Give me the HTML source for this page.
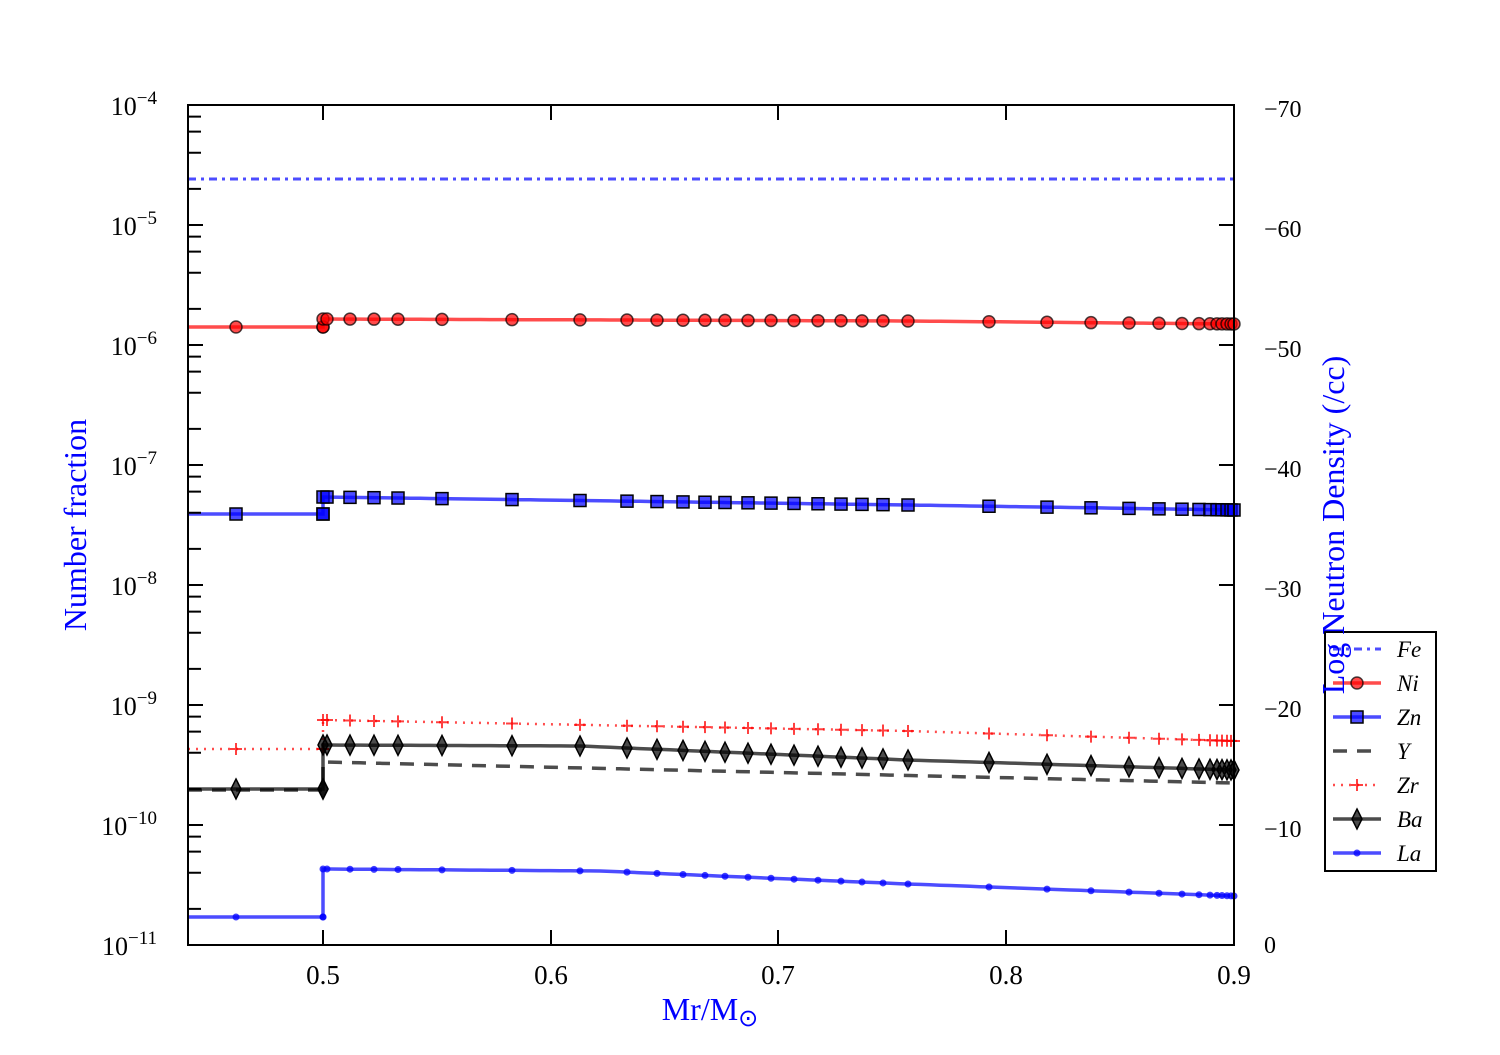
<!DOCTYPE html>
<html><head><meta charset="utf-8"><style>
body{margin:0;background:#fff}
svg{font-family:"Liberation Serif",serif}
</style></head><body>
<svg id="s" width="1500" height="1050" viewBox="0 0 1500 1050" xmlns="http://www.w3.org/2000/svg">
<rect width="1500" height="1050" fill="#fff"/>
<g id="data"></g>
<rect x="188" y="105" width="1046" height="840" fill="none" stroke="#000" stroke-width="2"/>
<g id="ticks" stroke="#000" stroke-width="2"></g>
<g font-size="27" text-anchor="middle">
<text x="323" y="984">0.5</text><text x="551" y="984">0.6</text><text x="778" y="984">0.7</text><text x="1006" y="984">0.8</text><text x="1234" y="984">0.9</text>
</g>
<g font-size="26" text-anchor="end">
<text x="157" y="115">10<tspan dy="-11" font-size="19">−4</tspan></text>
<text x="157" y="235">10<tspan dy="-11" font-size="19">−5</tspan></text>
<text x="157" y="355">10<tspan dy="-11" font-size="19">−6</tspan></text>
<text x="157" y="475">10<tspan dy="-11" font-size="19">−7</tspan></text>
<text x="157" y="595">10<tspan dy="-11" font-size="19">−8</tspan></text>
<text x="157" y="715">10<tspan dy="-11" font-size="19">−9</tspan></text>
<text x="157" y="835">10<tspan dy="-11" font-size="19">−10</tspan></text>
<text x="157" y="955">10<tspan dy="-11" font-size="19">−11</tspan></text>
</g>
<g font-size="24">
<text x="1264" y="117">−70</text><text x="1264" y="237">−60</text><text x="1264" y="357">−50</text><text x="1264" y="477">−40</text><text x="1264" y="597">−30</text><text x="1264" y="717">−20</text><text x="1264" y="837">−10</text><text x="1264" y="953">0</text>
</g>
<text x="710" y="1020" font-size="32" fill="#00f" text-anchor="middle">Mr/M<tspan font-size="24" dy="6">⊙</tspan></text>
<text transform="translate(86,525) rotate(-90)" font-size="32" fill="#00f" text-anchor="middle">Number fraction</text>
<g id="leg">
<rect x="1325" y="632" width="111" height="239" fill="#fff" stroke="#000" stroke-width="2"/>
</g>
<text transform="translate(1344,525) rotate(-90)" font-size="32" fill="#00f" text-anchor="middle">Log Neutron Density (/cc)</text>
<g font-size="23" font-style="italic">
<text x="1397" y="657">Fe</text><text x="1397" y="691">Ni</text><text x="1397" y="725">Zn</text><text x="1397" y="759">Y</text><text x="1397" y="793">Zr</text><text x="1397" y="827">Ba</text><text x="1397" y="861">La</text>
</g>
</svg>
<script>
const NS="http://www.w3.org/2000/svg";
function el(p,t,a){const e=document.createElementNS(NS,t);for(const k in a)e.setAttribute(k,a[k]);p.appendChild(e);return e;}
const T=document.getElementById('ticks');
for(let d=0;d<8;d++){const y=105+120*d;
 el(T,'line',{x1:188,y1:y,x2:203,y2:y});
 if(d<7)for(let m=2;m<10;m+=2){const yy=y+120-120*Math.log10(m);el(T,'line',{x1:188,y1:yy,x2:201,y2:yy});}
}
for(let v=0;v<=70;v+=10){const y=945-12*v;el(T,'line',{x1:1234,y1:y,x2:1219,y2:y});}
[323,551,778,1006].forEach(x=>{el(T,'line',{x1:x,y1:945,x2:x,y2:930});el(T,'line',{x1:x,y1:105,x2:x,y2:120});});
let D=document.getElementById('data');
const xs=[236,323,323,323,327,350,374,398,442,512,580,627,657,683,705,725,748,771,794,818,841,862,883,908,989,1047,1091,1129,1159,1182,1199,1210,1217,1222,1227,1231,1234];
function interp(a,x){for(let i=0;i<a.length-1;i++){if(x>=a[i][0]&&x<=a[i+1][0]){const t=(x-a[i][0])/(a[i+1][0]-a[i][0]||1);return a[i][1]+t*(a[i+1][1]-a[i][1]);}}return a[a.length-1][1];}
function series(L,R,dash,col,w,mk){
 const anchors=[[324,R[0]]].concat(R.slice(1));
 let d="M188,"+L+" L323,"+L+" L323,"+R[0];
 for(let x=330;x<=1234;x+=10)d+=" L"+x+","+interp(anchors,x).toFixed(1);
 el(D,'path',{d:d,fill:'none',stroke:col,'stroke-width':w,'stroke-dasharray':dash||'','stroke-opacity':0.7});
 if(!mk)return;
 xs.forEach((x,i)=>{const y=(x<323||i==1||i==2)?L:interp(anchors,Math.max(x,324));mk(x,y);});
}
function circ(r,f){return (x,y)=>el(D,'circle',{cx:x,cy:y,r:r,fill:f,'fill-opacity':0.7,stroke:'#000','stroke-opacity':0.7,'stroke-width':1.5});}
function sq(x,y){el(D,'rect',{x:x-6,y:y-6,width:12,height:12,fill:'#00f','fill-opacity':0.7,stroke:'#000','stroke-width':1.5});}
function dia(x,y){el(D,'path',{d:`M${x},${y-10}L${x+5},${y}L${x},${y+10}L${x-5},${y}Z`,fill:'#000','fill-opacity':0.7,stroke:'#000','stroke-width':1.5});}
function plus(x,y){el(D,'path',{d:`M${x-6},${y}H${x+6}M${x},${y-6}V${y+6}`,stroke:'#f00','stroke-opacity':0.75,'stroke-width':2});}
function dot(x,y){el(D,'circle',{cx:x,cy:y,r:3.5,fill:'#00f','fill-opacity':0.75});}
el(D,'line',{x1:188,y1:179,x2:1234,y2:179,stroke:'#00f','stroke-opacity':0.7,'stroke-width':3,'stroke-dasharray':'8,5,3,5'});
series(790,[762,[1234,783]],'14,10','#000',3.5,null);
series(327,[319,[908,321],[1234,324]],'','#f00',3.5,circ(6,'#f00'));
series(514,[497,[908,505],[1234,510]],'','#00f',3.5,sq);
series(749,[720,[908,731],[1234,741]],'2,6','#f00',2.5,plus);
series(789,[745,[580,746],[908,760],[1234,770]],'','#000',3.5,dia);
series(917,[869,[600,871],[908,884],[1234,896]],'','#00f',3.5,dot);
D=document.getElementById('leg');
function ln(y,c,dash,w){el(D,'line',{x1:1333,y1:y,x2:1381,y2:y,stroke:c,'stroke-opacity':0.7,'stroke-width':w,'stroke-dasharray':dash||''});}
ln(649,'#00f','8,5,3,5',3);ln(683,'#f00','',3.5);ln(717,'#00f','',3.5);ln(751,'#000','14,10',3.5);ln(785,'#f00','2,6',2.5);ln(819,'#000','',3.5);ln(853,'#00f','',3.5);
circ(6,'#f00')(1357,683);sq(1357,717);plus(1357,785);dia(1357,819);dot(1357,853);
</script>
</body></html>
